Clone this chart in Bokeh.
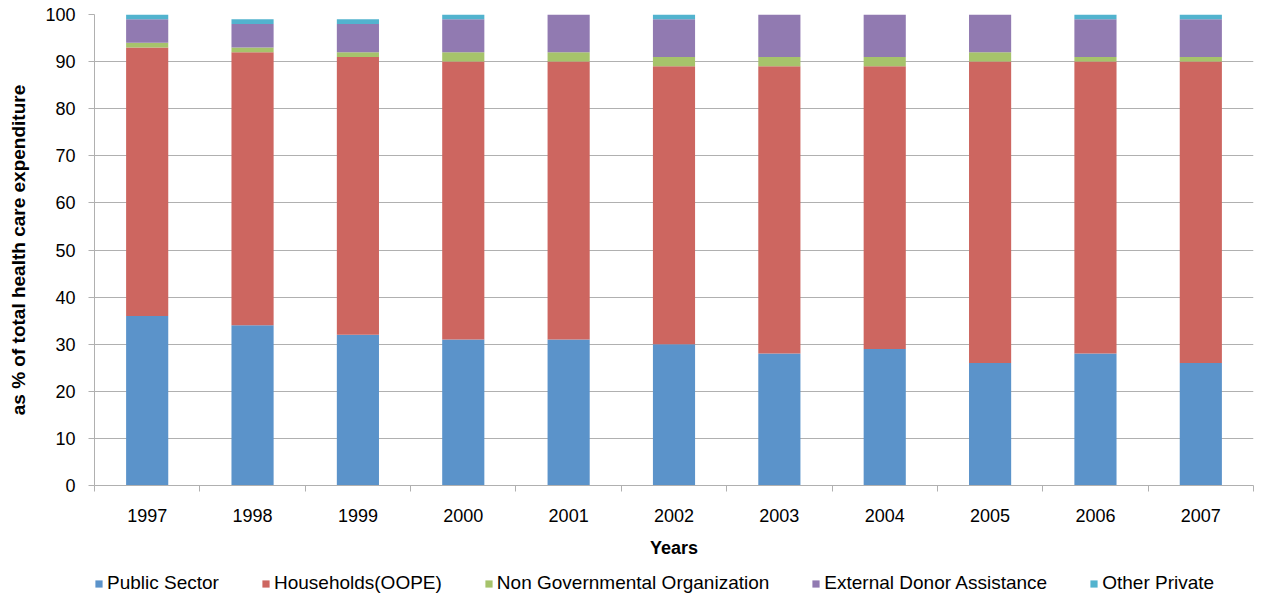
from bokeh.plotting import figure
from bokeh.layouts import column
from bokeh.models import (ColumnDataSource, Range1d, LinearAxis, FixedTicker,
                          Legend, LegendItem, Grid)
from bokeh.embed import file_html
from bokeh.resources import INLINE

years = ["1997", "1998", "1999", "2000", "2001", "2002", "2003", "2004", "2005", "2006", "2007"]
public_sector = [36, 34, 32, 31, 31, 30, 28, 29, 26, 28, 26]
households = [57, 58, 59, 59, 59, 59, 61, 60, 64, 62, 64]
ngo = [1, 1, 1, 2, 2, 2, 2, 2, 2, 1, 1]
external_donor = [5, 5, 6, 7, 8, 8, 9, 9, 8, 8, 8]
other_private = [1, 1, 1, 1, 0, 1, 0, 0, 0, 1, 1]
series_names = ["Public Sector", "Households(OOPE)", "Non Governmental Organization",
                "External Donor Assistance", "Other Private"]
y_ticks = [0, 10, 20, 30, 40, 50, 60, 70, 80, 90, 100]

colors = ["#5B93CA", "#CD6660", "#A6C36B", "#917AB1", "#52B3CE"]
FONT = "Liberation Sans"
GRID = "#B0B0B0"
stackers = ["s0", "s1", "s2", "s3", "s4"]

xpos = list(range(len(years)))
source = ColumnDataSource(dict(
    x=xpos, s0=public_sector, s1=households, s2=ngo, s3=external_donor, s4=other_private))

p = figure(width=1267, height=560, output_backend="svg", toolbar_location=None,
           x_range=Range1d(-0.5, len(years) - 0.5), y_range=Range1d(0, 100),
           x_axis_location=None, y_axis_location=None,
           min_border_left=94, min_border_right=14, min_border_top=14, min_border_bottom=74)
p.outline_line_color = None
p.background_fill_color = "white"
p.border_fill_color = "white"

renderers = p.vbar_stack(stackers, x="x", width=0.4,
                         color=colors, line_color=None, source=source)

# y axis
yaxis = LinearAxis(ticker=FixedTicker(ticks=y_ticks), axis_label="as % of total health care expenditure")
yaxis.axis_line_color = GRID
yaxis.major_tick_line_color = GRID
yaxis.major_tick_out = 6
yaxis.major_tick_in = 0
yaxis.minor_tick_line_color = None
yaxis.major_label_text_font = FONT
yaxis.major_label_text_font_size = "18px"
yaxis.major_label_text_color = "black"
yaxis.major_label_standoff = 13
yaxis.axis_label_text_font = FONT
yaxis.axis_label_text_font_size = "19px"
yaxis.axis_label_text_font_style = "bold"
yaxis.axis_label_text_color = "black"
yaxis.axis_label_standoff = 13
p.add_layout(yaxis, "left")

# x axis: boundary ticks
xaxis1 = LinearAxis(ticker=FixedTicker(ticks=[i - 0.5 for i in range(len(years) + 1)]))
xaxis1.axis_line_color = GRID
xaxis1.major_tick_line_color = GRID
xaxis1.major_tick_out = 6
xaxis1.major_tick_in = 0
xaxis1.minor_tick_line_color = None
xaxis1.major_label_text_alpha = 0
xaxis1.major_label_text_font_size = "1px"
xaxis1.major_label_standoff = 0
p.add_layout(xaxis1, "below")

# x axis: labels at centres
xaxis2 = LinearAxis(ticker=FixedTicker(ticks=xpos), axis_label="Years")
xaxis2.major_label_overrides = {i: y for i, y in enumerate(years)}
xaxis2.axis_line_color = None
xaxis2.major_tick_line_color = None
xaxis2.minor_tick_line_color = None
xaxis2.major_label_text_font = FONT
xaxis2.major_label_text_font_size = "18px"
xaxis2.major_label_text_color = "black"
xaxis2.major_label_standoff = 11
xaxis2.axis_label_text_font = FONT
xaxis2.axis_label_text_font_size = "18px"
xaxis2.axis_label_text_font_style = "bold"
xaxis2.axis_label_text_color = "black"
xaxis2.axis_label_standoff = 13
p.add_layout(xaxis2, "below")

p.ygrid.visible = False
p.xgrid.visible = False
p.add_layout(Grid(dimension=1, ticker=FixedTicker(ticks=y_ticks), grid_line_color=GRID, grid_line_width=1))

# legend strip
p2 = figure(width=1267, height=36, output_backend="svg", toolbar_location=None,
            x_range=Range1d(-0.5, len(years) - 0.5), y_range=Range1d(500, 600),
            x_axis_location=None, y_axis_location=None,
            min_border_left=0, min_border_right=0, min_border_top=0, min_border_bottom=0)
p2.outline_line_color = None
p2.xgrid.visible = False
p2.ygrid.visible = False
leg_renderers = p2.vbar_stack(stackers, x="x", width=0.4,
                              color=colors, line_color=None, source=source)

items = [LegendItem(label=n, renderers=[r]) for n, r in zip(series_names, leg_renderers)]
legend = Legend(items=items, orientation="horizontal", location=(0, 2))
legend.label_text_font = FONT
legend.label_text_font_size = "19px"
legend.label_text_color = "black"
legend.glyph_width = 9
legend.glyph_height = 9
legend.label_standoff = 4
legend.spacing = 42
legend.padding = 0
legend.margin = 0
legend.border_line_color = None
legend.background_fill_color = None
p2.add_layout(legend)

layout = column(p, p2, spacing=0)
open("out.html", "w").write(file_html(layout, INLINE))
